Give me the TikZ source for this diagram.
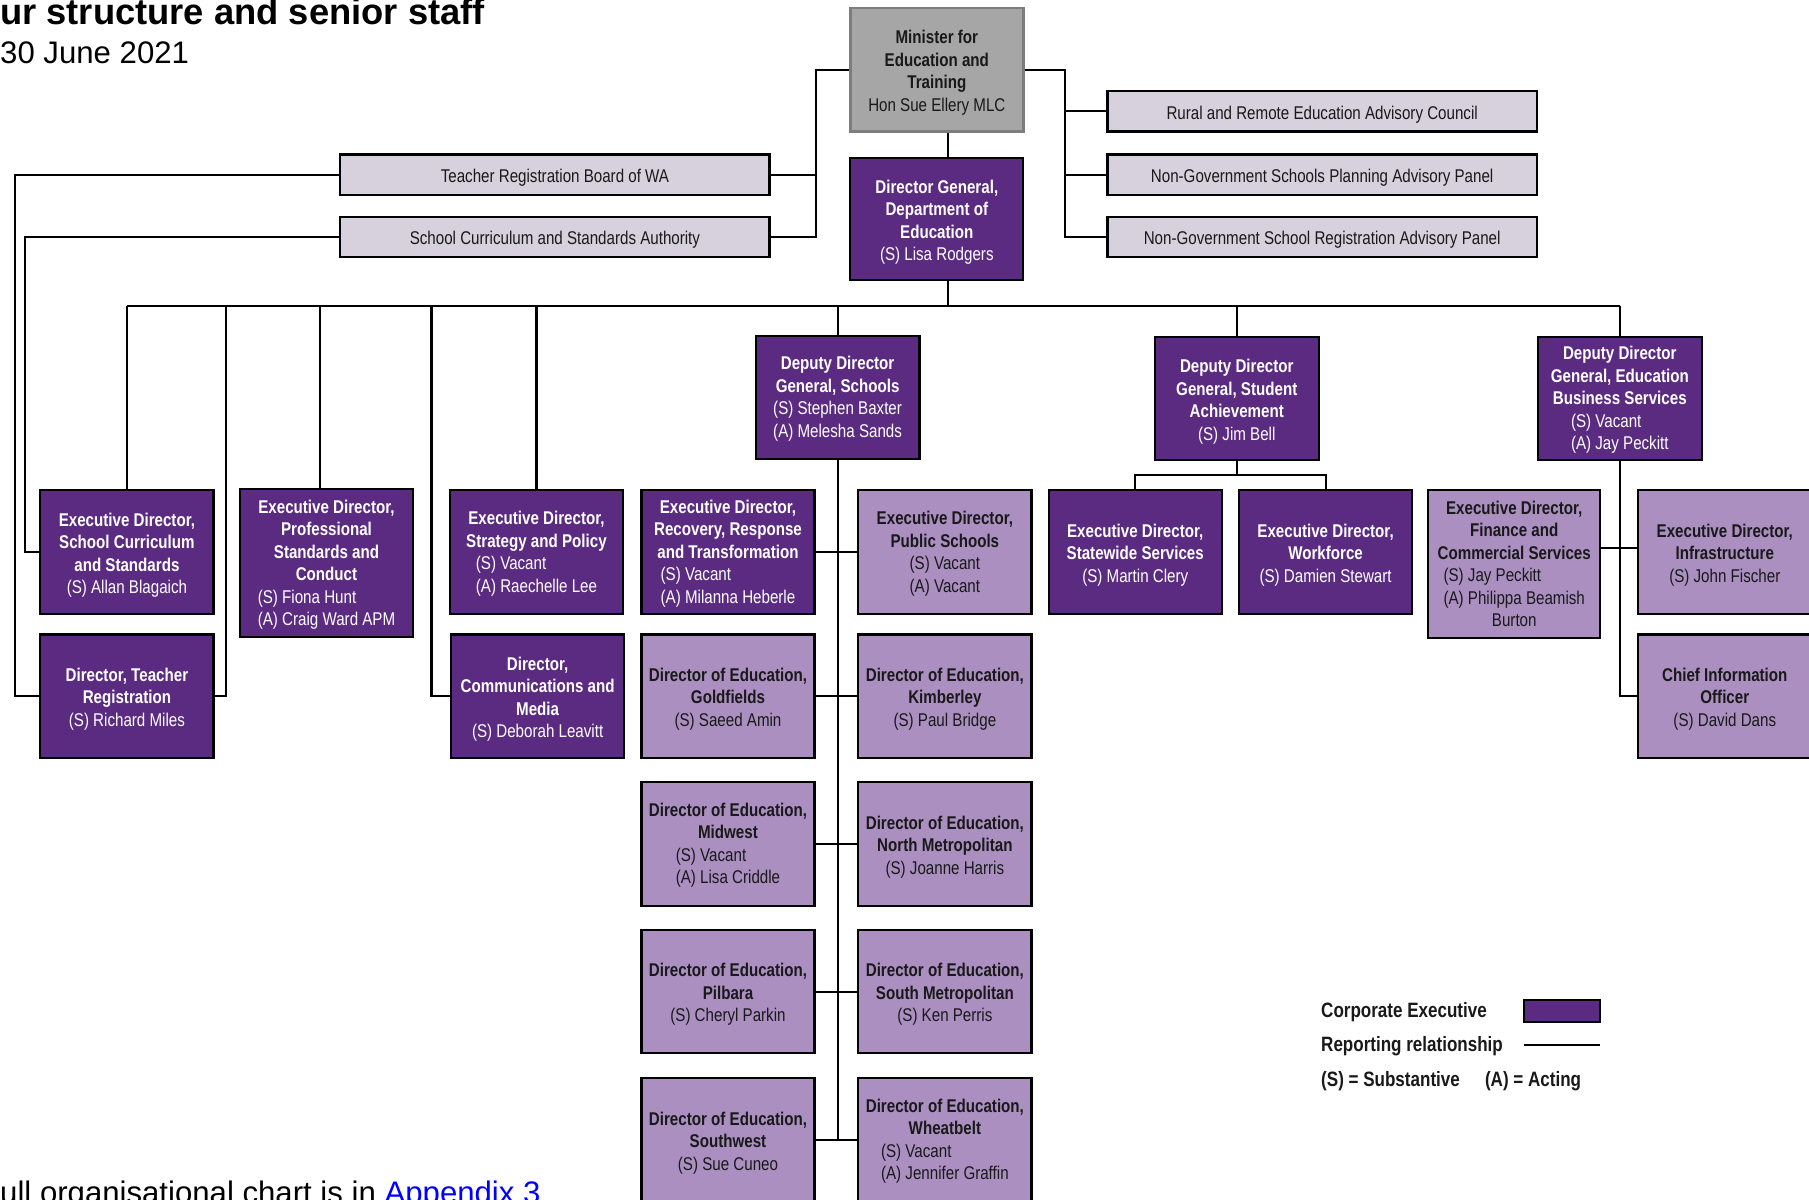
\documentclass[tikz,border=0pt]{standalone}
\usepackage{fontspec}
\setmainfont{Liberation Sans}
\newfontfamily\narrowfont{Liberation Sans}[FakeStretch=0.82]
\definecolor{dkp}{RGB}{90,43,129}
\definecolor{ltp}{RGB}{170,143,192}
\definecolor{grb}{RGB}{214,209,220}
\definecolor{ming}{RGB}{166,166,166}
\definecolor{minb}{RGB}{125,125,125}
\definecolor{txt}{RGB}{25,25,25}
\definecolor{linkblue}{RGB}{0,0,255}
\newcommand{\pnames}[1]{\mdseries\begin{tabular}[t]{@{}l@{}}#1\end{tabular}}
\newcommand{\tp}{\rule{0pt}{16.7pt}}
\begin{document}
\begin{tikzpicture}[x=1pt,y=-1pt,
  conn/.style={line width=1.8pt, draw=black},
  bx/.style={rectangle, draw=black, line width=1.9pt, inner sep=0pt, align=center,
    font=\narrowfont\fontsize{16}{19.5}\selectfont\bfseries, minimum width=150, minimum height=107},
  dk/.style={bx, fill=dkp, text=white},
  lt/.style={bx, fill=ltp, text=txt},
  gr/.style={bx, fill=grb, text=txt, font=\narrowfont\fontsize{16}{19.5}\selectfont, minimum width=372, minimum height=35},
  ddg/.style={dk, minimum width=142},
  tall/.style={minimum height=128},
  lg/.style={anchor=west, inner sep=0pt, text=txt, font=\narrowfont\fontsize{18}{22}\selectfont\bfseries},
  plain/.style={anchor=base west, inner sep=0pt, text=black}
]
\fill[white] (0,0) rectangle (1568,1040);
\useasboundingbox (0,0) rectangle (1568,1040);

% titles
\node[plain, font=\fontsize{31.5}{36}\selectfont\bfseries] (title) at (0,21.5) {ur structure and senior staff};
\node[plain, font=\fontsize{27}{30}\selectfont] (date) at (0,55) {30 June 2021};
\node[plain, font=\fontsize{27}{30}\selectfont] (foot) at (0,1043) {ull organisational chart is in \textcolor{linkblue}{Appendix 3}};

% grey boxes
\node[gr] (trb) at (481,151.5) {\tp Teacher Registration Board of WA};
\node[gr] (scsa) at (481,205.5) {\tp School Curriculum and Standards Authority};
\node[gr] (rr) at (1146,96.5) {\tp Rural and Remote Education Advisory Council};
\node[gr] (nsp) at (1146,151.5) {\tp Non-Government Schools Planning Advisory Panel};
\node[gr] (nsr) at (1146,205.5) {\tp Non-Government School Registration Advisory Panel};

% top
\node[bx, fill=ming, draw=minb, line width=2.4pt, text=txt] (min) at (812,60.5) {\tp Minister for\\Education and\\Training\\\mdseries Hon Sue Ellery MLC};
\node[dk, minimum height=106] (dg) at (812,190) {\tp Director General,\\Department of\\Education\\\mdseries (S) Lisa Rodgers};

% deputy directors general
\node[ddg] (ddgs) at (726,344.5) {\tp Deputy Director\\General, Schools\\\pnames{(S) Stephen Baxter\\(A) Melesha Sands}};
\node[ddg] (ddgsa) at (1072,345.5) {\tp Deputy Director\\General, Student\\Achievement\\\mdseries (S) Jim Bell};
\node[ddg] (ebs) at (1404,345.5) {\tp Deputy Director\\General, Education\\Business Services\\\pnames{(S) Vacant\\(A) Jay Peckitt}};

% row 1
\node[dk] (sc) at (110,478.5) {\tp Executive Director,\\School Curriculum\\and Standards\\\mdseries (S) Allan Blagaich};
\node[dk, tall] (ps) at (283,488) {\tp Executive Director,\\Professional\\Standards and\\Conduct\\\pnames{(S) Fiona Hunt\\(A) Craig Ward APM}};
\node[dk] (sp) at (465,478.5) {\tp Executive Director,\\Strategy and Policy\\\pnames{(S) Vacant\\(A) Raechelle Lee}};
\node[dk] (rrt) at (631,478.5) {\tp Executive Director,\\Recovery, Response\\and Transformation\\\pnames{(S) Vacant\\(A) Milanna Heberle}};
\node[lt] (pub) at (819,478.5) {\tp Executive Director,\\Public Schools\\\pnames{(S) Vacant\\(A) Vacant}};
\node[dk] (sws) at (984,478.5) {\tp Executive Director,\\Statewide Services\\\mdseries (S) Martin Clery};
\node[dk] (wf) at (1149,478.5) {\tp Executive Director,\\Workforce\\\mdseries (S) Damien Stewart};
\node[lt, tall, minimum width=149] (fin) at (1312.5,489) {\tp Executive Director,\\Finance and\\Commercial Services\\\pnames{(S) Jay Peckitt\\(A) Philippa Beamish\\\multicolumn{1}{c}{Burton}}};
\node[lt] (inf) at (1495,478.5) {\tp Executive Director,\\Infrastructure\\\mdseries (S) John Fischer};

% row 2
\node[dk] (tr) at (110,603.5) {\tp Director, Teacher\\Registration\\\mdseries (S) Richard Miles};
\node[dk] (com) at (466,603.5) {\tp Director,\\Communications and\\Media\\\mdseries (S) Deborah Leavitt};
\node[lt] (gold) at (631,603.5) {\tp Director of Education,\\Goldfields\\\mdseries (S) Saeed Amin};
\node[lt] (kim) at (819,603.5) {\tp Director of Education,\\Kimberley\\\mdseries (S) Paul Bridge};
\node[lt] (cio) at (1495,603.5) {\tp Chief Information\\Officer\\\mdseries (S) David Dans};

% rows 3-5
\node[lt] (mid) at (631,731.5) {\tp Director of Education,\\Midwest\\\pnames{(S) Vacant\\(A) Lisa Criddle}};
\node[lt] (nm) at (819,731.5) {\tp Director of Education,\\North Metropolitan\\\mdseries (S) Joanne Harris};
\node[lt] (pil) at (631,859.5) {\tp Director of Education,\\Pilbara\\\mdseries (S) Cheryl Parkin};
\node[lt] (sm) at (819,859.5) {\tp Director of Education,\\South Metropolitan\\\mdseries (S) Ken Perris};
\node[lt] (swst) at (631,988) {\tp Director of Education,\\Southwest\\\mdseries (S) Sue Cuneo};
\node[lt] (wb) at (819,988) {\tp Director of Education,\\Wheatbelt\\\pnames{(S) Vacant\\(A) Jennifer Graffin}};

% helper coordinates
\coordinate (lj) at (707,0);
\coordinate (rj) at (923,0);
\coordinate (ll) at (13,0);
\coordinate (l2) at (22,0);
\coordinate (mx) at (822,0);
\coordinate (bus) at (0,265);
\coordinate (d1) at (196,0);
\coordinate (d2) at (374,0);
\coordinate (dps) at (277,0);
\coordinate (fb) at (0,475);

% connectors
\draw[conn] (min.west) -| (lj |- scsa.east) -- (scsa.east);
\draw[conn] (trb.east) -- (trb.east -| lj);
\draw[conn] (min.east) -| (rj |- nsr.west) -- (nsr.west);
\draw[conn] (rr.west) -- (rr.west -| rj);
\draw[conn] (nsp.west) -- (nsp.west -| rj);
\draw[conn] (trb.west) -| (ll |- tr.west) -- (tr.west);
\draw[conn] (scsa.west) -| (l2 |- sc.west) -- (sc.west);
\draw[conn] (min.south -| mx) -- (dg.north -| mx);
\draw[conn] (dg.south -| mx) -- (mx |- bus);
\draw[conn] (sc.north |- bus) -- (ebs.north |- bus);
\draw[conn] (sc.north |- bus) -- (sc.north);
\draw[conn] (dps |- bus) -- (dps |- ps.north);
\draw[conn] (sp.north |- bus) -- (sp.north);
\draw[conn] (ddgs.north |- bus) -- (ddgs.north);
\draw[conn] (ddgsa.north |- bus) -- (ddgsa.north);
\draw[conn] (ebs.north |- bus) -- (ebs.north);
\draw[conn] (d1 |- bus) |- (tr.east);
\draw[conn] (d2 |- bus) |- (com.west);
\draw[conn] (ddgs.south) -- (ddgs.south |- swst.east);
\draw[conn] (rrt.east) -- (pub.west);
\draw[conn] (gold.east) -- (kim.west);
\draw[conn] (mid.east) -- (nm.west);
\draw[conn] (pil.east) -- (sm.west);
\draw[conn] (swst.east) -- (wb.west);
\draw[conn] (ddgsa.south) -- ++(0,12) coordinate (sab) -| (sws.north);
\draw[conn] (sab) -| (wf.north);
\draw[conn] (ebs.south) |- (cio.west);
\draw[conn] (fin.east |- fb) -- (inf.west |- fb);

% legend
\node[lg] (lg1) at (1145,877) {Corporate Executive};
\node[dk, minimum width=66, minimum height=19] (swatch) at (1354,876.5) {};
\node[lg] (lg2) at (1145,907) {Reporting relationship};
\coordinate (la) at (1321,906);
\coordinate (lb) at (1387,906);
\draw[conn] (la) -- (lb);
\node[lg] (lg3) at (1145,937) {(S) = Substantive};
\node[lg] (lg4) at (1287,937) {(A) = Acting};
\end{tikzpicture}
\end{document}
